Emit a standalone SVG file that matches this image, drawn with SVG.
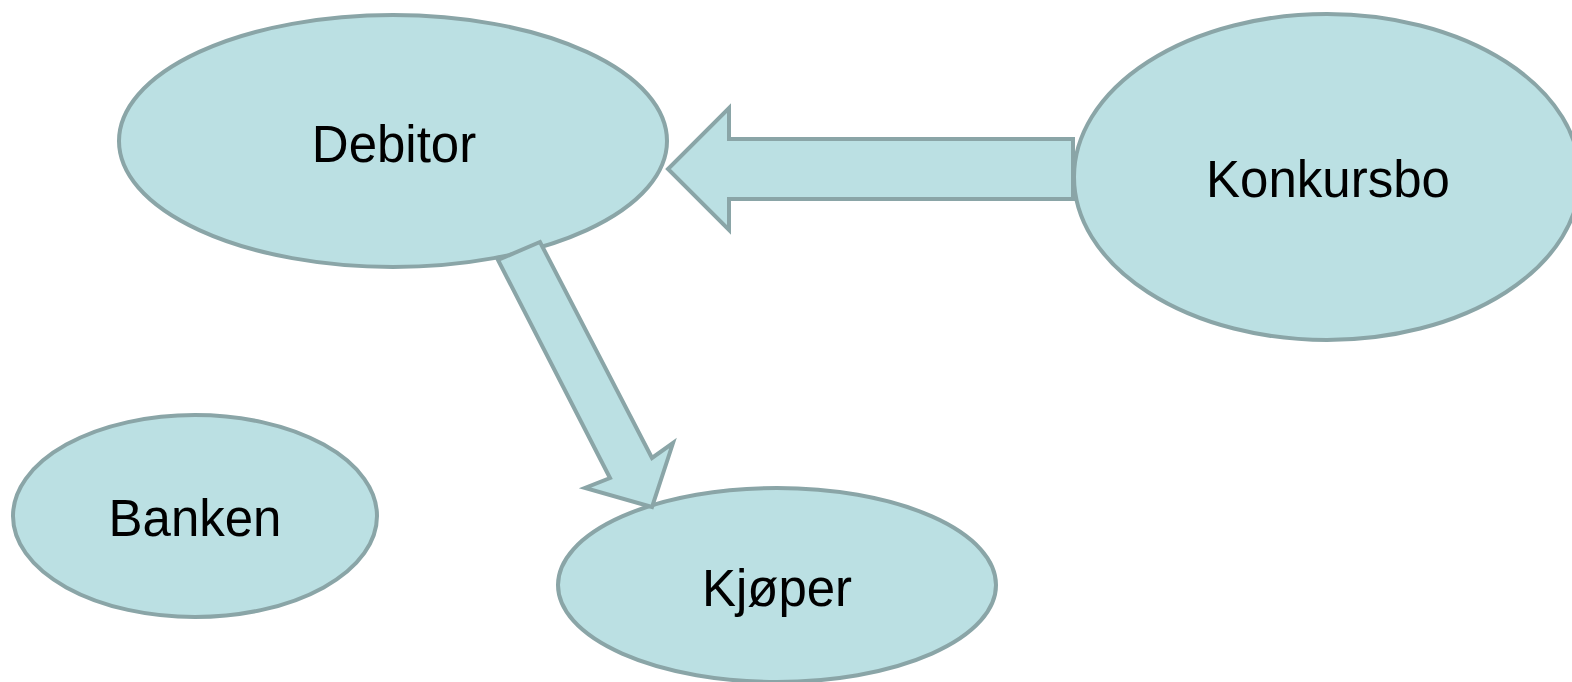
<svg xmlns="http://www.w3.org/2000/svg" width="1572" height="682" viewBox="0 0 1572 682">
<style>
.n{fill:#bbe0e3;stroke:#8aa5a7;stroke-width:4}
.a{fill:#bbe0e3;stroke:#8aa5a7;stroke-width:4;stroke-linejoin:miter}
.t{font-family:"Liberation Sans",Arial,sans-serif;font-size:51px;fill:#000;text-anchor:middle}
</style>
<rect width="1572" height="682" fill="#fff"/>
<g id="debitor"><ellipse class="n" cx="393" cy="141" rx="274" ry="126"/><text class="t" x="394" y="162">Debitor</text></g>
<g id="kjoper"><ellipse class="n" cx="777" cy="585" rx="219" ry="97"/><text class="t" x="777" y="606">Kjøper</text></g>
<g id="banken"><ellipse class="n" cx="195" cy="516" rx="182" ry="101"/><text class="t" x="195" y="536">Banken</text></g>
<g id="connectors">
<polygon class="a" points="1073,139 729,139 729,108 668,169 729,230 729,199 1073,199"/>
<polygon class="a" points="498,260 540,242 652,458 673,443 652,507 585,488 610,478"/>
</g>
<g id="konkursbo"><ellipse class="n" cx="1327" cy="177" rx="253" ry="163"/><text class="t" x="1328" y="197">Konkursbo</text></g>
</svg>
